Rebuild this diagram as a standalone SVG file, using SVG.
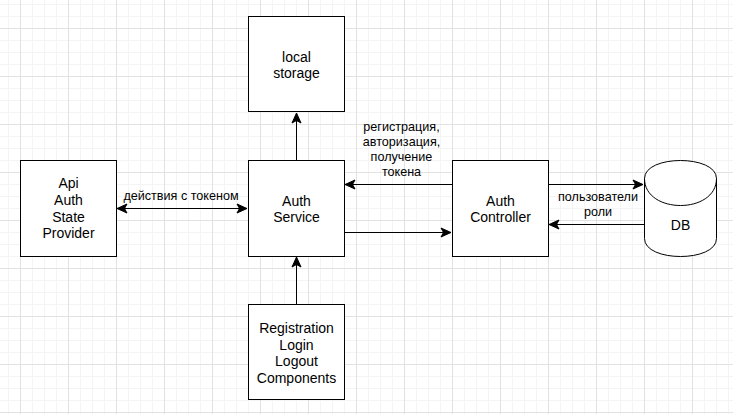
<svg xmlns="http://www.w3.org/2000/svg" width="733" height="414" viewBox="0 0 733 414">
<style>
  .box { fill: #ffffff; stroke: #000000; stroke-width: 1; }
  .edge { fill: none; stroke: #000000; stroke-width: 1; }
  .t14 { font-family: "Liberation Sans", Arial, sans-serif; font-size: 14px; fill: #000000; text-anchor: middle; }
  .t12 { font-family: "Liberation Sans", Arial, sans-serif; font-size: 12.6px; fill: #000000; text-anchor: middle; }
</style>
<defs>
  <pattern id="grid" patternUnits="userSpaceOnUse" x="20" y="28" width="48" height="48">
    <path d="M12.5 0V48M24.5 0V48M36.5 0V48M0 12.5H48M0 24.5H48M0 36.5H48" stroke="#f4f4f4" stroke-width="1" fill="none"/>
    <path d="M0.5 0V48M0 0.5H48" stroke="#e2e2e2" stroke-width="1" fill="none"/>
  </pattern>
  <marker id="ah" markerUnits="userSpaceOnUse" viewBox="-11 -6 12 12" refX="0" refY="0" markerWidth="12" markerHeight="12" orient="auto-start-reverse">
    <path d="M0,0 L-10,-4.5 L-7.5,0 L-10,4.5 Z" fill="#000000" stroke="#000000" stroke-width="1" stroke-linejoin="miter"/>
  </marker>
</defs>
<rect x="0" y="0" width="733" height="414" fill="#ffffff"/>
<rect x="0" y="0" width="733" height="414" fill="url(#grid)"/>

<g id="connectors">
  <path class="edge" d="M296.5 160V113" marker-end="url(#ah)"/>
  <path class="edge" d="M296.5 304V257" marker-end="url(#ah)"/>
  <path class="edge" d="M117 208.5H247" marker-start="url(#ah)" marker-end="url(#ah)"/>
  <text class="t12" x="181" y="200">действия с токеном</text>
  <path class="edge" d="M452 184.5H345" marker-end="url(#ah)"/>
  <text class="t12" x="401.5" y="131">регистрация,</text>
  <text class="t12" x="401.5" y="146">авторизация,</text>
  <text class="t12" x="401.5" y="161">получение</text>
  <text class="t12" x="401.5" y="176">токена</text>
  <path class="edge" d="M344 232.5H451" marker-end="url(#ah)"/>
  <path class="edge" d="M548 184.5H643" marker-end="url(#ah)"/>
  <path class="edge" d="M644 224.5H549" marker-end="url(#ah)"/>
  <text class="t12" x="598" y="201">пользователи</text>
  <text class="t12" x="598" y="216">роли</text>
</g>

<g id="local-storage">
  <rect class="box" x="248.5" y="16.5" width="96" height="95"/>
  <text class="t14" x="296.5" y="62">local</text>
  <text class="t14" x="296.5" y="78">storage</text>
</g>

<g id="api-auth-state-provider">
  <rect class="box" x="20.5" y="160.5" width="96" height="96"/>
  <text class="t14" x="68.5" y="188">Api</text>
  <text class="t14" x="68.5" y="205">Auth</text>
  <text class="t14" x="68.5" y="221.5">State</text>
  <text class="t14" x="68.5" y="238">Provider</text>
</g>

<g id="auth-service">
  <rect class="box" x="248.5" y="160.5" width="96" height="96"/>
  <text class="t14" x="296.5" y="205.5">Auth</text>
  <text class="t14" x="296.5" y="221.5">Service</text>
</g>

<g id="auth-controller">
  <rect class="box" x="452.5" y="160.5" width="96" height="96"/>
  <text class="t14" x="500.5" y="205.5">Auth</text>
  <text class="t14" x="500.5" y="221.5">Controller</text>
</g>

<g id="db">
  <path class="box" d="M644.5 178.5C644.5 154.5 716.5 154.5 716.5 178.5V238.5C716.5 262.5 644.5 262.5 644.5 238.5Z"/>
  <path class="edge" d="M644.5 178.5C644.5 214.5 716.5 214.5 716.5 178.5"/>
  <text class="t14" x="680.5" y="230">DB</text>
</g>

<g id="registration-components">
  <rect class="box" x="248.5" y="304.5" width="96" height="95"/>
  <text class="t14" x="296.5" y="333">Registration</text>
  <text class="t14" x="296.5" y="349.5">Login</text>
  <text class="t14" x="296.5" y="366">Logout</text>
  <text class="t14" x="296.5" y="382.5">Components</text>
</g>
</svg>
